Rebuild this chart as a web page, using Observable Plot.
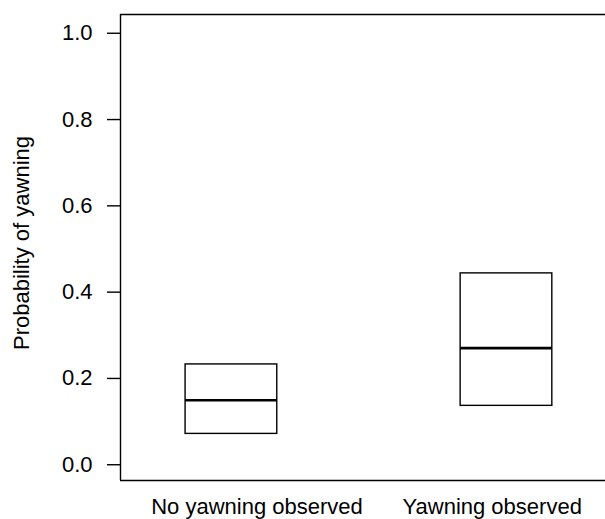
<!DOCTYPE html>
<html>
<head>
<meta charset="utf-8">
<script src="https://cdn.jsdelivr.net/npm/d3@7"></script>
<script src="https://cdn.jsdelivr.net/npm/@observablehq/plot@0.6"></script>
<style>
  html, body { margin: 0; padding: 0; background: #fff; overflow: hidden; }
</style>
</head>
<body>
<div id="chart"></div>
<script>
// Data
const groups = ["No yawning observed", "Yawning observed"];
const lower  = [0.068, 0.133];
const median = [0.146, 0.267];
const upper  = [0.229, 0.440];
const yTicks = [0.0, 0.2, 0.4, 0.6, 0.8, 1.0];
const yTitle = "Probability of yawning";

const rows = groups.map((g, i) => ({group: g, pos: i + 1, lo: lower[i], med: median[i], hi: upper[i]}));

// layout constants
const halfW = 1 / 6;
const labelShift = [0.093, -0.052];
const font = "'Liberation Sans', Arial, Helvetica, sans-serif";

const chart = Plot.plot({
  width: 605,
  height: 519,
  marginLeft: 120,
  marginRight: 0,
  marginTop: 14,
  marginBottom: 39,
  style: {fontFamily: font, fontSize: "22px", color: "#000", background: "#fff"},
  x: {domain: [0.5967, 2.36], axis: null},
  y: {domain: [-0.04, 1.04], axis: null},
  marks: [
    // plot frame (right edge falls outside the image)
    Plot.ruleY([-0.04, 1.04], {stroke: "#000", strokeWidth: 1.4}),
    Plot.ruleX([0.5967], {stroke: "#000", strokeWidth: 1.4}),
    Plot.axisY({
      ticks: yTicks, tickFormat: d3.format(".1f"), tickSize: 13, tickPadding: 15,
      stroke: "#000", strokeWidth: 1.4, fontSize: 22, dy: 1.5, label: null
    }),
    Plot.text([yTitle], {
      frameAnchor: "left", rotate: -90, dx: -98.5, dy: -4.5,
      textAnchor: "middle", lineAnchor: "middle", fontSize: 22, fill: "#000"
    }),
    Plot.rect(rows, {
      x1: d => d.pos - halfW, x2: d => d.pos + halfW, y1: "lo", y2: "hi",
      fill: "none", stroke: "#000", strokeWidth: 1.4
    }),
    Plot.ruleY(rows, {
      x1: d => d.pos - halfW, x2: d => d.pos + halfW, y: "med",
      stroke: "#000", strokeWidth: 2.7
    }),
    Plot.text(rows, {
      x: (d, i) => d.pos + labelShift[i], text: "group",
      frameAnchor: "bottom", lineAnchor: "top", dy: 17.4,
      fontSize: 22, fill: "#000"
    })
  ]
});
document.getElementById("chart").append(chart);
</script>
</body>
</html>
